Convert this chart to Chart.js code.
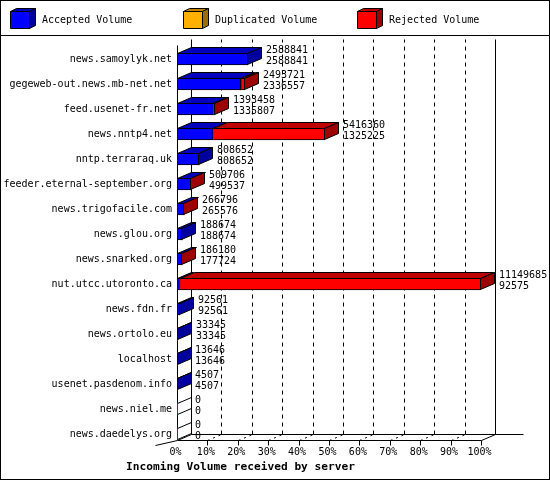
<!DOCTYPE html>
<html><head><meta charset="utf-8">
<script src="https://cdn.jsdelivr.net/npm/chart.js@4/dist/chart.umd.min.js"></script>
<style>html,body{margin:0;padding:0;background:#fff;overflow:hidden}</style>
</head><body>
<canvas id="c" width="550" height="480"></canvas>
<script>
const categories = ['news.samoylyk.net','gegeweb-out.news.mb-net.net','feed.usenet-fr.net','news.nntp4.net','nntp.terraraq.uk','feeder.eternal-september.org','news.trigofacile.com','news.glou.org','news.snarked.org','nut.utcc.utoronto.ca','news.fdn.fr','news.ortolo.eu','localhost','usenet.pasdenom.info','news.niel.me','news.daedelys.org'];
const offeredVolume = [2588841,2493721,1393458,5416360,808652,509706,266796,188674,186180,11149685,92561,33345,13646,4507,0,0];
const acceptedVolume = [2588841,2336557,1335807,1325225,808652,499537,265576,188674,177724,92575,92561,33345,13646,4507,0,0];
const duplicatedVolume = [0,0,0,0,0,0,0,0,0,0,0,0,0,0,0,0];
const rejectedVolume = [0,157164,57651,4091135,0,10169,1220,0,8456,11057110,0,0,0,0,0,0];
const tickLabels = ['0%','10%','20%','30%','40%','50%','60%','70%','80%','90%','100%'];
const seriesLabels = ['Accepted Volume','Duplicated Volume','Rejected Volume'];
const seriesColors = ['#0000ff','#ffb000','#ff0000'];
const axisTitle = 'Incoming Volume received by server';

const AXIS_MAX = Math.max(...offeredVolume);
const DX = 14, DY = -6, HALF = 6;
const FONT = '"DejaVu Sans Mono", "Liberation Mono", monospace';

function shade(hex, f){
  const n = parseInt(hex.slice(1),16);
  const r = Math.round(((n>>16)&255)*f), g = Math.round(((n>>8)&255)*f), b = Math.round((n&255)*f);
  return 'rgb('+r+','+g+','+b+')';
}
function poly(ctx, pts, fill){
  ctx.beginPath();
  ctx.moveTo(pts[0][0], pts[0][1]);
  for (let i=1;i<pts.length;i++) ctx.lineTo(pts[i][0], pts[i][1]);
  ctx.closePath();
  if (fill){ ctx.fillStyle = fill; ctx.fill(); }
  ctx.stroke();
}
function line(ctx, x1,y1,x2,y2){ ctx.beginPath(); ctx.moveTo(x1,y1); ctx.lineTo(x2,y2); ctx.stroke(); }

const frame3d = {
  id: 'frame3d',
  beforeDatasetsDraw(chart){
    const ctx = chart.ctx, xs = chart.scales.x, ys = chart.scales.y;
    const L = Math.round(xs.getPixelForValue(0)) + 0.5;
    const R = Math.round(xs.getPixelForValue(AXIS_MAX)) + 0.5;
    const F = Math.round(ys.getPixelForValue(categories.length-1) + HALF) + 0.5;
    const T = Math.round(ys.getPixelForValue(0) - 14) + 0.5;
    ctx.save();
    ctx.strokeStyle = '#000'; ctx.lineWidth = 1;
    // dashed grid lines on back wall and floor
    xs.ticks.forEach((t, i) => {
      const px = Math.round(xs.getPixelForValue(t.value)) + 0.5;
      if (i > 0 && i < xs.ticks.length-1) {
        ctx.setLineDash([4,4]);
        line(ctx, px+DX, F+DY, px+DX, T+DY);
        ctx.setLineDash([2,4]);
        line(ctx, px, F, px+DX, F+DY);
        ctx.setLineDash([]);
      }
      if (i > 0) line(ctx, px, F, px, F+5);
    });
    ctx.setLineDash([]);
    line(ctx, L, T, L, F);
    line(ctx, L+DX, T+DY, L+DX, F+DY);
    line(ctx, R+DX, T+DY, R+DX, F+DY);
    line(ctx, L+DX, F+DY, R+DX+28, F+DY);
    line(ctx, L, F, R, F);
    line(ctx, R, F, R+DX, F+DY);
    line(ctx, L, F, L+DX, F+DY);
    line(ctx, L-22, F+5, L, F);
    ctx.restore();
  },
  afterDatasetsDraw(chart){
    const ctx = chart.ctx, xs = chart.scales.x;
    const metas = chart.data.datasets.map((d, k) => chart.getDatasetMeta(k));
    ctx.save();
    ctx.strokeStyle = '#000'; ctx.lineWidth = 1;
    categories.forEach((c, i) => {
      let lastK = -1, endX = xs.getPixelForValue(0), cy = 0;
      const top = Math.round(metas[0].data[i].y - HALF) + 0.5;
      const bot = Math.round(metas[0].data[i].y + HALF) - 0.5;
      cy = metas[0].data[i].y;
      metas.forEach((m, k) => {
        const v = chart.data.datasets[k].data[i];
        if (v > 0) {
          const el = m.data[i];
          const x0 = Math.round(el.base) + 0.5, x1 = Math.round(el.x) - 0.5;
          poly(ctx, [[x0,top],[Math.max(x1,x0),top],[Math.max(x1,x0)+DX,top+DY],[x0+DX,top+DY]], shade(seriesColors[k], 0.75));
          lastK = k; endX = el.x;
        }
      });
      const xe = lastK >= 0 ? Math.max(Math.round(endX) - 0.5, Math.round(xs.getPixelForValue(0)) + 0.5) : Math.round(endX) + 0.5;
      if (lastK >= 0) {
        poly(ctx, [[xe,top],[xe+DX,top+DY],[xe+DX,bot+DY],[xe,bot]], shade(seriesColors[lastK], 0.62));
      } else {
        line(ctx, xe, top, xe+DX, top+DY);
        line(ctx, xe, bot, xe+DX, bot+DY);
      }
      ctx.fillStyle = '#000';
      ctx.font = '10px ' + FONT;
      ctx.textAlign = 'left'; ctx.textBaseline = 'middle';
      const lx = Math.round(endX) + DX + 4;
      ctx.fillText(String(offeredVolume[i]), lx, cy - 8.5);
      ctx.fillText(String(acceptedVolume[i]), lx, cy + 2.5);
    });
    ctx.restore();
  },
  afterDraw(chart){
    const ctx = chart.ctx;
    ctx.save();
    ctx.strokeStyle = '#000'; ctx.lineWidth = 1;
    ctx.strokeRect(0.5, 0.5, 549, 479);
    line(ctx, 0, 35.5, 550, 35.5);
    const lx = [10, 183, 357];
    seriesLabels.forEach((lab, k) => {
      const x0 = lx[k] + 0.5, y0 = 11.5, w = 19, h = 17, dx = 6, dy = -3;
      poly(ctx, [[x0,y0],[x0+w,y0],[x0+w+dx,y0+dy],[x0+dx,y0+dy]], shade(seriesColors[k], 0.75));
      poly(ctx, [[x0+w,y0],[x0+w+dx,y0+dy],[x0+w+dx,y0+h+dy],[x0+w,y0+h]], shade(seriesColors[k], 0.62));
      poly(ctx, [[x0,y0],[x0+w,y0],[x0+w,y0+h],[x0,y0+h]], seriesColors[k]);
      ctx.fillStyle = '#000';
      ctx.font = '10px ' + FONT;
      ctx.textAlign = 'left'; ctx.textBaseline = 'middle';
      ctx.fillText(lab, lx[k] + 32, 20);
    });
    ctx.restore();
  }
};

const seriesData = [acceptedVolume, duplicatedVolume, rejectedVolume];
new Chart(document.getElementById('c'), {
  type: 'bar',
  data: {
    labels: categories,
    datasets: seriesLabels.map((lab, k) => ({
      label: lab,
      data: seriesData[k],
      backgroundColor: seriesColors[k],
      borderColor: '#000',
      borderWidth: ctx => (ctx.raw > 0 ? 1 : 0),
      borderSkipped: false,
      barThickness: 12
    }))
  },
  options: {
    indexAxis: 'y',
    responsive: false,
    devicePixelRatio: 1,
    animation: false,
    layout: { padding: { left: 0, right: 69, top: 46.5, bottom: 6.28 } },
    plugins: {
      legend: { display: false },
      tooltip: { enabled: false },
      title: {
        display: true, position: 'bottom', text: axisTitle, color: '#000',
        font: { family: FONT, size: 11.2, weight: 'bold', lineHeight: 1.2 },
        padding: 0
      }
    },
    scales: {
      x: {
        type: 'linear', min: 0, max: AXIS_MAX, stacked: true,
        grid: { display: false, drawTicks: false }, border: { display: false },
        ticks: {
          count: tickLabels.length, autoSkip: false, maxRotation: 0, padding: 0, labelOffset: -1.5,
          color: '#000', font: { family: FONT, size: 10 },
          callback: (v, i) => tickLabels[i]
        },
        afterFit: s => { s.height = 13.78; }
      },
      y: {
        type: 'category', stacked: true,
        grid: { display: false, drawTicks: false }, border: { display: false },
        ticks: { autoSkip: false, padding: 5, color: '#000', font: { family: FONT, size: 10 } },
        afterFit: s => { s.width = 177; }
      }
    }
  },
  plugins: [frame3d]
});
</script>
</body></html>
